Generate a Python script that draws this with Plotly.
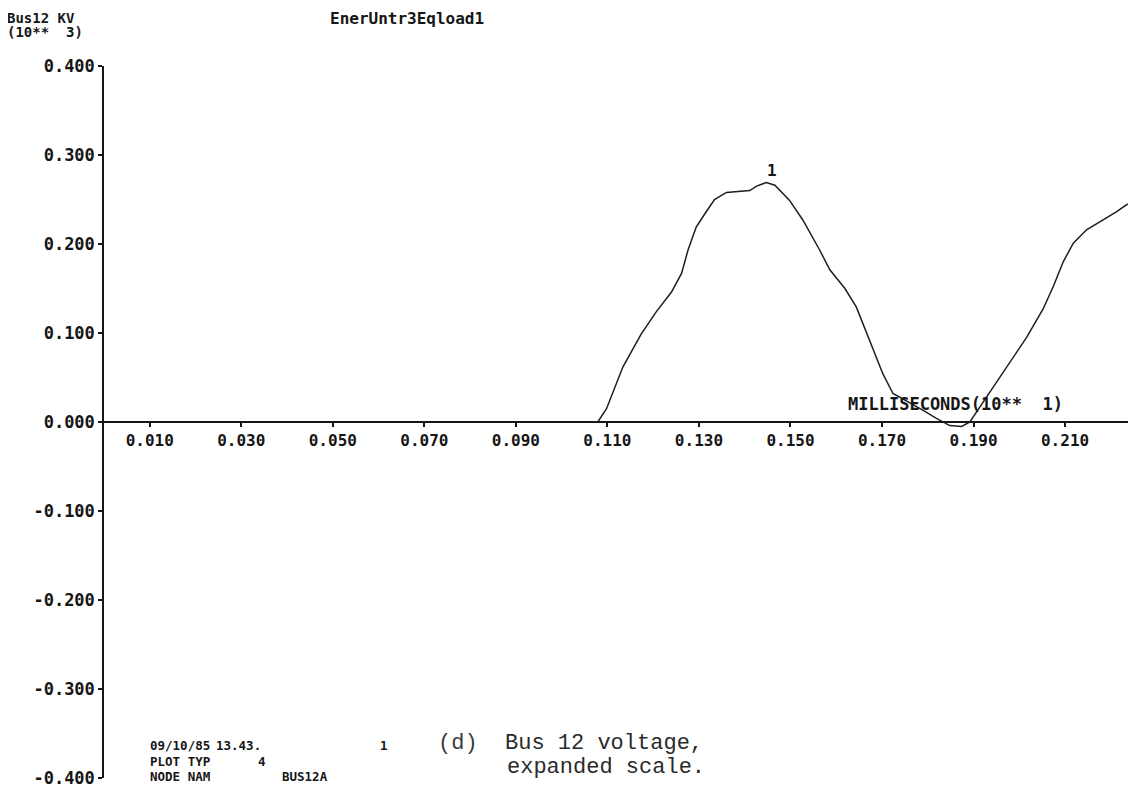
import plotly.graph_objects as go

# ---- data ----
time_ms = [0.0, 0.1079, 0.1098, 0.1134, 0.1174, 0.1207, 0.1240, 0.1262, 0.1276, 0.1294,
           0.1313, 0.1334, 0.1360, 0.1389, 0.1411, 0.1426, 0.1447, 0.1466, 0.1498, 0.1527,
           0.1564, 0.1586, 0.1619, 0.1644, 0.1673, 0.1702, 0.1724, 0.1753, 0.1790, 0.1819,
           0.1848, 0.1874, 0.1892, 0.1914, 0.1943, 0.1979, 0.2016, 0.2052, 0.2074, 0.2096,
           0.2118, 0.2147, 0.2183, 0.2212, 0.2237]
bus12_kv = [0.0, 0.000, 0.015, 0.062, 0.099, 0.124, 0.146, 0.167, 0.193, 0.219,
            0.234, 0.250, 0.258, 0.259, 0.260, 0.265, 0.269, 0.266, 0.249, 0.227,
            0.193, 0.171, 0.150, 0.129, 0.092, 0.054, 0.032, 0.024, 0.013, 0.004,
            -0.004, -0.005, 0.000, 0.017, 0.039, 0.067, 0.095, 0.127, 0.152, 0.180,
            0.201, 0.216, 0.227, 0.236, 0.245]

x_tick_vals = [0.01, 0.03, 0.05, 0.07, 0.09, 0.11, 0.13, 0.15, 0.17, 0.19, 0.21, 0.23]
x_tick_text = ["0.010", "0.030", "0.050", "0.070", "0.090", "0.110", "0.130", "0.150",
               "0.170", "0.190", "0.210", "0.230"]
y_tick_vals = [0.4, 0.3, 0.2, 0.1, 0.0, -0.1, -0.2, -0.3, -0.4]
y_tick_text = ["0.400", "0.300", "0.200", "0.100", "0.000", "-0.100", "-0.200", "-0.300", "-0.400"]

title_left = ["Bus12 KV", "(10**\u00a0\u00a03)"]
title_center = "EnerUntr3Eqload1"
x_axis_label = "MILLISECONDS(10**\u00a0\u00a01)"
curve_label = "1"
info_rows = [["09/10/85", "13.43.", "1"], ["PLOT TYP", "4"], ["NODE NAM", "BUS12A"]]
caption = ["(d)", "Bus 12 voltage,", "expanded scale."]

# ---- layout geometry (page body has an 8px margin) ----
OFF = 8
W, H = 1136 - OFF, 792 - OFF
L, R, T, B = 96, 0, 58, 14
PW, PH = W - L - R, H - T - B
PLOT_LEFT = OFF + L          # viewport x of plot area left edge
PLOT_BOTTOM = OFF + H - B    # viewport y of plot area bottom edge


def px(x):
    return (x - PLOT_LEFT) / PW


def py(y):
    return (PLOT_BOTTOM - y) / PH


MONO = "DejaVu Sans Mono"
INK = "#161616"

fig = go.Figure()
fig.add_trace(go.Scatter(
    x=time_ms, y=bus12_kv, mode="lines",
    line=dict(color="#1e1e1e", width=1.5),
    showlegend=False, hoverinfo="skip"))

ann = []


def txt(text, x, y, size, font=MONO, weight="bold", color=INK):
    ann.append(dict(text=text, x=px(x), y=py(y), xref="paper", yref="paper",
                    xanchor="left", yanchor="middle", showarrow=False,
                    font=dict(family=font, size=size, color=color, weight=weight)))


txt(title_left[0], 5, 18, 14)
txt(title_left[1], 5, 32, 14)
txt(title_center, 328, 18, 16)
txt(x_axis_label, 846, 404, 17)

rows_y = [745, 761, 776]
row_x = [[148, 214, 378], [148, 256], [148, 280]]
for r, (items, xs) in enumerate(zip(info_rows, row_x)):
    for it, xx in zip(items, xs):
        txt(it, xx, rows_y[r], 12.5)

txt(caption[0], 436, 743, 22, font="Liberation Mono", weight="normal", color="#3a3a3a")
txt(caption[1], 503, 743, 22, font="Liberation Mono", weight="normal", color="#2a2a2a")
txt(caption[2], 505, 767, 22, font="Liberation Mono", weight="normal", color="#2a2a2a")

# peak label
pk = max(range(len(bus12_kv)), key=lambda i: bus12_kv[i])
ann.append(dict(text=curve_label, x=time_ms[pk], y=bus12_kv[pk], xref="x", yref="y",
                xanchor="center", yanchor="bottom", showarrow=False, xshift=6, yshift=1,
                font=dict(family=MONO, size=16, color=INK, weight="bold")))

fig.update_layout(
    width=W, height=H, margin=dict(l=L, r=R, t=T, b=B, pad=0),
    paper_bgcolor="white", plot_bgcolor="white",
    annotations=ann,
    xaxis=dict(range=[0.0, 0.2255], anchor="free", position=0.5,
               showline=True, linecolor=INK, linewidth=1.5,
               showgrid=False, zeroline=False,
               ticks="outside", ticklen=4, tickwidth=1.5, tickcolor=INK,
               tickvals=x_tick_vals, ticktext=x_tick_text,
               tickfont=dict(family=MONO, size=16, color=INK, weight="bold")),
    yaxis=dict(range=[-0.4, 0.4], showline=True, linecolor=INK, linewidth=1.5,
               showgrid=False, zeroline=False,
               ticks="outside", ticklen=4, tickwidth=1.5, tickcolor=INK,
               tickvals=y_tick_vals, ticktext=y_tick_text,
               tickfont=dict(family=MONO, size=17, color=INK, weight="bold")),
)

fig.write_html("out.html")
